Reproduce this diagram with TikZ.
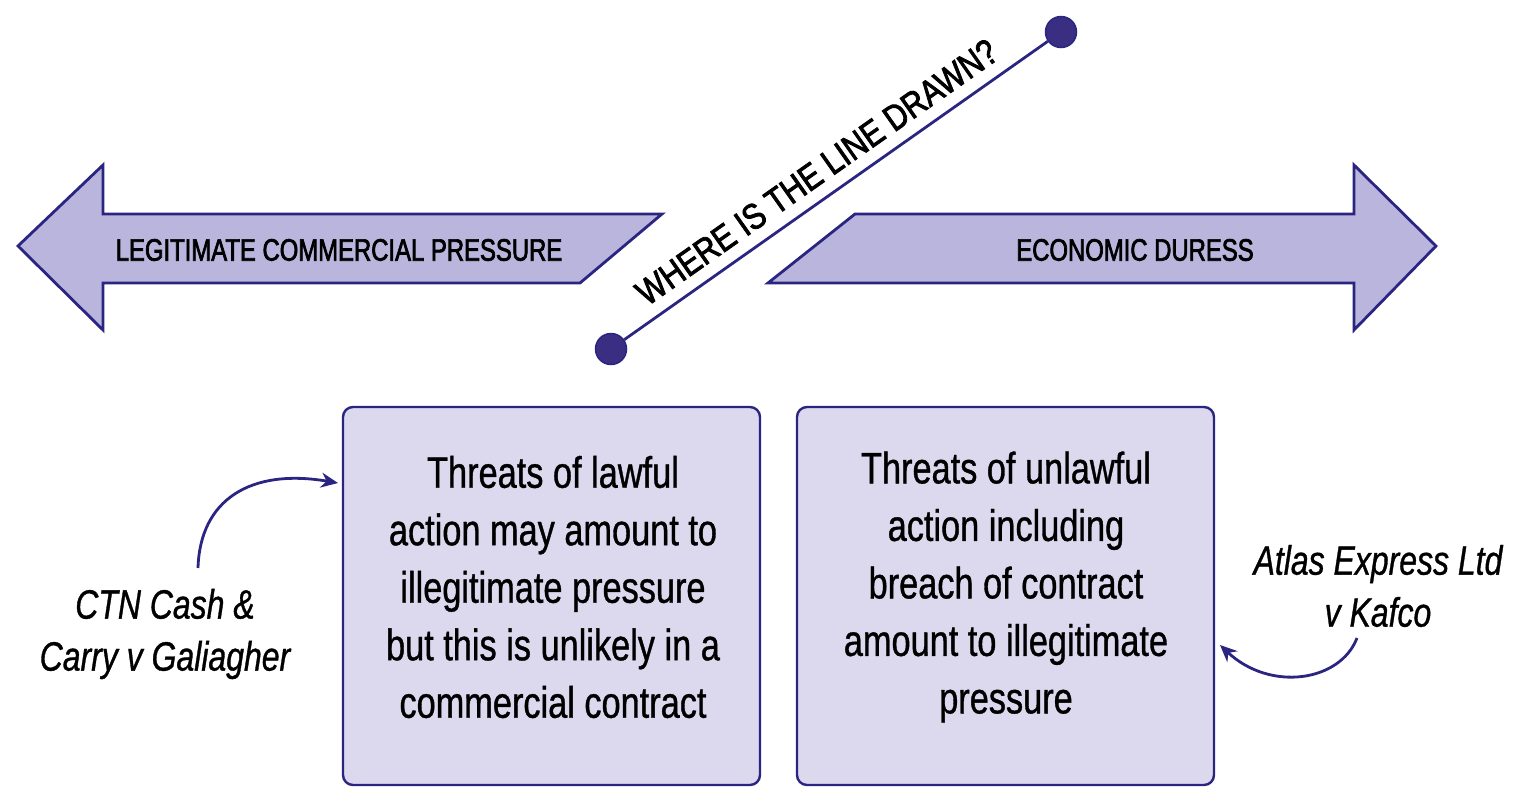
\documentclass[tikz,border=0pt]{standalone}
\usepackage{fontspec}
\setmainfont{Liberation Sans}[FakeStretch=0.78, FakeBold=0.8]
\newfontfamily\headfont{Liberation Sans}[FakeStretch=0.77, FakeBold=2.2]
\newfontfamily\diagfont{Liberation Sans}[FakeStretch=0.84, FakeBold=2.2]
\usetikzlibrary{arrows.meta}
\definecolor{navy}{HTML}{2B2582}
\definecolor{arrowfill}{HTML}{B9B5DD}
\definecolor{boxfill}{HTML}{DCD9EE}
\definecolor{dotfill}{HTML}{3A2E82}
\tikzset{
  bigarrow/.style={draw=navy, fill=arrowfill, line width=2.8pt, line join=miter},
  headtext/.style={font=\headfont\fontsize{31}{36}\selectfont, inner sep=0pt},
  casebox/.style={draw=navy, fill=boxfill, line width=2.4pt, rounded corners=10pt, minimum width=417pt, minimum height=378pt, inner sep=0pt},
  boxtext/.style={font=\fontsize{44}{57.5}\selectfont, align=center, inner sep=0pt},
  casetext/.style={font=\itshape\fontsize{41}{52}\selectfont, align=center, inner sep=0pt},
  enddot/.style={circle, draw=navy, fill=dotfill, line width=1.5pt, minimum size=31pt, inner sep=0pt},
  conn/.style={draw=navy, line width=2.8pt, -{Stealth[length=17pt,width=15pt]}},
}
\begin{document}
\begin{tikzpicture}[x=1pt,y=-1pt]
\useasboundingbox (0,0) rectangle (1516,804);
% left big arrow
\draw[bigarrow] (18,246) -- (103,165) -- (103,214) -- (662,214) -- (580,283) -- (103,283) -- (103,330) -- cycle;
\node[headtext] (lcp) at (339,250) {LEGITIMATE COMMERCIAL PRESSURE};
% right big arrow
\draw[bigarrow] (1436,246) -- (1354,165) -- (1354,214) -- (855,214) -- (768,283) -- (1354,283) -- (1354,330) -- cycle;
\node[headtext] (ed) at (1135,250) {ECONOMIC DURESS};
% diagonal line
\node[enddot] (d1) at (611,349) {};
\node[enddot] (d2) at (1061,32) {};
\draw[navy, line width=2.8pt] (d1) -- node[pos=0.49, sloped, above=12pt, inner sep=0pt, font=\diagfont\fontsize{36}{42}\selectfont, text=black] (q) {WHERE IS THE LINE DRAWN?} (d2);
% boxes
\node[casebox] (lb) at (551.5,596) {};
\node[boxtext] (lt) at (553,587) {Threats of lawful\\action may amount to\\illegitimate pressure\\but this is unlikely in a\\commercial contract};
\node[casebox] (rb) at (1005.5,596) {};
\node[boxtext] (rt) at (1006,587) {Threats of unlawful\\action including\\breach of contract\\amount to illegitimate\\pressure};
% cases
\node[casetext] (ctn) at (165,634) {CTN Cash \&\\Carry v Galiagher};
\node[casetext] (atlas) at (1378,586) {Atlas Express Ltd\\v Kafco};
\coordinate (ls) at (198,568);
\coordinate (le) at (338,483);
\draw[conn] (ls) .. controls (200,500) and (250,468) .. (le);
\coordinate (rs) at (1357,638);
\coordinate (re) at (1220,645);
\draw[conn] (rs) .. controls (1340,682) and (1270,692) .. (re);
\end{tikzpicture}
\end{document}
